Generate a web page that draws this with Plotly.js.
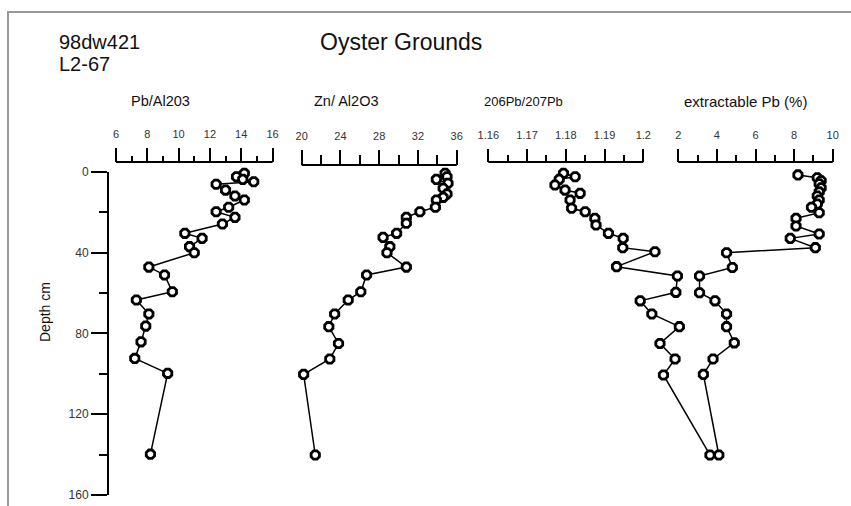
<!DOCTYPE html>
<html><head><meta charset="utf-8">
<script src="https://cdn.plot.ly/plotly-3.0.1.min.js"></script>
<style>html,body{margin:0;padding:0;background:#fff}#chart{width:851px;height:506px}</style>
</head><body><div id="chart"></div><script>
// ---- data ----
const depthPbAl = [0.8, 2.5, 3.8, 5.0, 6.2, 9.1, 12.0, 14.0, 17.6, 19.8, 22.6, 25.9, 30.5, 33.0, 37.1, 40.1, 47.2, 51.1, 59.4, 63.5, 70.4, 76.4, 84.2, 92.4, 99.8, 139.8];
const pbAl = [14.2, 13.7, 14.1, 14.8, 12.4, 13.0, 13.6, 14.2, 13.2, 12.4, 13.6, 12.8, 10.4, 11.5, 10.7, 11.0, 8.1, 9.1, 9.6, 7.3, 8.1, 7.9, 7.6, 7.2, 9.3, 8.2];

const depthZn = [0.8, 2.5, 3.8, 5.7, 8.2, 11.0, 12.7, 14.0, 17.6, 19.8, 22.6, 25.5, 30.5, 32.5, 37.1, 40.1, 47.2, 51.1, 59.4, 63.5, 70.4, 76.7, 85.0, 92.7, 100.3, 140.2];
const znAl = [34.8, 35.0, 33.9, 35.1, 34.6, 35.0, 34.6, 33.9, 33.8, 32.2, 30.8, 30.8, 29.8, 28.4, 29.1, 28.8, 30.8, 26.7, 26.1, 24.8, 23.4, 22.8, 23.8, 22.9, 20.2, 21.4];

const depthIso = [0.8, 2.5, 3.8, 6.6, 9.1, 10.7, 14.0, 18.1, 19.8, 23.1, 26.4, 30.5, 33.0, 37.6, 39.6, 47.0, 51.6, 59.7, 63.9, 70.4, 76.7, 85.0, 92.7, 100.6, 140.2];
const pbIso = [1.1794, 1.1824, 1.1783, 1.1772, 1.1798, 1.1837, 1.1811, 1.1815, 1.1850, 1.1875, 1.1878, 1.1910, 1.1948, 1.1947, 1.2030, 1.1931, 1.2088, 1.2084, 1.1992, 1.2022, 1.2093, 1.2043, 1.2082, 1.2052, 1.2172];

const depthExt = [1.6, 3.0, 4.5, 6.0, 8.0, 10.0, 12.0, 14.0, 16.0, 17.6, 20.3, 23.1, 26.9, 30.8, 33.0, 37.6, 40.1, 47.4, 51.6, 59.9, 63.9, 70.4, 76.7, 84.7, 92.7, 100.3, 140.2];
const extPb = [8.2, 9.2, 9.4, 9.3, 9.4, 9.3, 9.2, 9.3, 9.2, 8.9, 9.3, 8.1, 8.1, 9.3, 7.8, 9.1, 4.5, 4.8, 3.1, 3.1, 3.9, 4.5, 4.5, 4.9, 3.8, 3.3, 4.1];

// tick values / labels
const ticksPbAl = [6, 8, 10, 12, 14, 16];
const minorPbAl = [7, 9, 11, 13, 15];
const ticksZn = [20, 24, 28, 32, 36];
const minorZn = [22, 26, 30, 34];
const ticksIso = [1.16, 1.17, 1.18, 1.19, 1.2];
const labelsIso = ['1.16', '1.17', '1.18', '1.19', '1.2'];
const minorIso = [1.165, 1.175, 1.185, 1.195];
const ticksExt = [2, 4, 6, 8, 10];
const minorExt = [3, 5, 7, 9];
const ticksDepth = [0, 40, 80, 120, 160];
const minorDepth = [20, 60, 100, 140];

const panelTitles = ['Pb/Al203', 'Zn/ Al2O3', '206Pb/207Pb', 'extractable Pb (%)'];

// ---- layout geometry (pixels) ----
const W = 851, H = 506;
const L = 109, R = 5, T = 150, B = 11;
const pw = W - L - R, ph = H - T - B;
const px2x = p => (p - L) / pw;
const px2y = p => (H - B - p) / ph;
const depth0px = 171.7;

function rangeFor(lo, hi, pLo, pHi) {
  const s = (pHi - pLo) / (hi - lo);
  return [lo - (pLo - L) / s, lo + (L + pw - pLo) / s];
}

const panels = [
  {lo: 6, hi: 16, pLo: 116, pHi: 272.5, ay: 162, tv: ticksPbAl, tt: ticksPbAl.map(String), mv: minorPbAl, tl: 14, ml: 6, title: panelTitles[0], tx: 160, ts: 14.5},
  {lo: 20, hi: 36, pLo: 301.7, pHi: 456.7, ay: 165, tv: ticksZn, tt: ticksZn.map(String), mv: minorZn, tl: 15, ml: 10, title: panelTitles[1], tx: 346, ts: 14.5},
  {lo: 1.16, hi: 1.2, pLo: 488.3, pHi: 643.3, ay: 162, tv: ticksIso, tt: labelsIso, mv: minorIso, tl: 13, ml: 7, title: panelTitles[2], tx: 523, ts: 13},
  {lo: 2, hi: 10, pLo: 678.3, pHi: 832.7, ay: 162, tv: ticksExt, tt: ticksExt.map(String), mv: minorExt, tl: 13, ml: 7, title: panelTitles[3], tx: 745, ts: 15}
];

const series = [[pbAl, depthPbAl], [znAl, depthZn], [pbIso, depthIso], [extPb, depthExt]];
const tickFont = {family: 'Liberation Sans, Arial, sans-serif', size: 11, color: '#333'};

const traces = series.map((s, i) => ({
  x: s[0], y: s[1], type: 'scatter', mode: 'lines+markers',
  xaxis: i === 0 ? 'x' : 'x' + (i + 1), yaxis: 'y',
  cliponaxis: false,
  line: {color: '#000', width: 1.5},
  marker: {symbol: 'octagon', size: 9, color: '#fff', line: {color: '#000', width: 2.8}},
  hoverinfo: 'x+y'
}));

const layout = {
  width: W, height: H,
  margin: {l: L, r: R, t: T, b: B},
  paper_bgcolor: '#fff', plot_bgcolor: 'rgba(0,0,0,0)',
  showlegend: false,
  font: {family: 'Liberation Sans, Arial, sans-serif', color: '#000'},
  yaxis: {
    domain: [0, px2y(depth0px)], range: [160, 0], autorange: false,
    anchor: 'x', side: 'left',
    showline: true, linecolor: '#000', linewidth: 2,
    showgrid: false, zeroline: false,
    ticks: 'outside', ticklen: 16, tickwidth: 2, tickcolor: '#000',
    tickvals: ticksDepth, ticktext: ticksDepth.map(String),
    minor: {tickvals: minorDepth, ticks: 'outside', ticklen: 8, tickwidth: 2, tickcolor: '#000', showgrid: false},
    tickfont: {family: 'Liberation Sans, Arial, sans-serif', size: 12, color: '#333'}
  },
  shapes: [],
  annotations: []
};

panels.forEach((p, i) => {
  const key = i === 0 ? 'xaxis' : 'xaxis' + (i + 1);
  const ref = i === 0 ? 'x' : 'x' + (i + 1);
  const ax = {
    domain: [0, 1], range: rangeFor(p.lo, p.hi, p.pLo, p.pHi), autorange: false,
    anchor: 'free', position: px2y(p.ay), side: 'top',
    showline: false, showgrid: false, zeroline: false,
    ticks: 'outside', ticklen: p.tl, tickwidth: 2, tickcolor: '#000',
    ticklabelstandoff: 6,
    tickvals: p.tv, ticktext: p.tt,
    minor: {tickvals: p.mv, ticks: 'outside', ticklen: p.ml, tickwidth: 2, tickcolor: '#000', showgrid: false},
    tickfont: tickFont
  };
  if (i > 0) ax.overlaying = 'x';
  layout[key] = ax;
  layout.shapes.push({type: 'line', xref: ref, yref: 'paper', x0: p.lo, x1: p.hi, y0: px2y(p.ay), y1: px2y(p.ay), line: {color: '#000', width: 2}});
  layout.annotations.push({text: p.title, xref: 'paper', yref: 'paper', x: px2x(p.tx), y: px2y(101), xanchor: 'center', yanchor: 'middle', showarrow: false, font: {size: p.ts, color: '#111'}});
});

// frame
layout.shapes.push({type: 'line', xref: 'paper', yref: 'paper', x0: px2x(7), x1: px2x(851), y0: px2y(12), y1: px2y(12), line: {color: '#999', width: 2}});
layout.shapes.push({type: 'line', xref: 'paper', yref: 'paper', x0: px2x(8), x1: px2x(8), y0: px2y(12), y1: px2y(506), line: {color: '#999', width: 2}});

layout.annotations.push(
  {text: '98dw421', xref: 'paper', yref: 'paper', x: px2x(57), y: px2y(42), xanchor: 'left', yanchor: 'middle', showarrow: false, font: {size: 20, color: '#111'}},
  {text: 'L2-67', xref: 'paper', yref: 'paper', x: px2x(57), y: px2y(64), xanchor: 'left', yanchor: 'middle', showarrow: false, font: {size: 20, color: '#111'}},
  {text: 'Oyster Grounds', xref: 'paper', yref: 'paper', x: px2x(318), y: px2y(42), xanchor: 'left', yanchor: 'middle', showarrow: false, font: {size: 23, color: '#111'}},
  {text: 'Depth cm', xref: 'paper', yref: 'paper', x: px2x(45), y: px2y(312), xanchor: 'center', yanchor: 'middle', textangle: -90, showarrow: false, font: {size: 14, color: '#111'}}
);

Plotly.newPlot('chart', traces, layout, {displayModeBar: false, staticPlot: true});
</script></body></html>
